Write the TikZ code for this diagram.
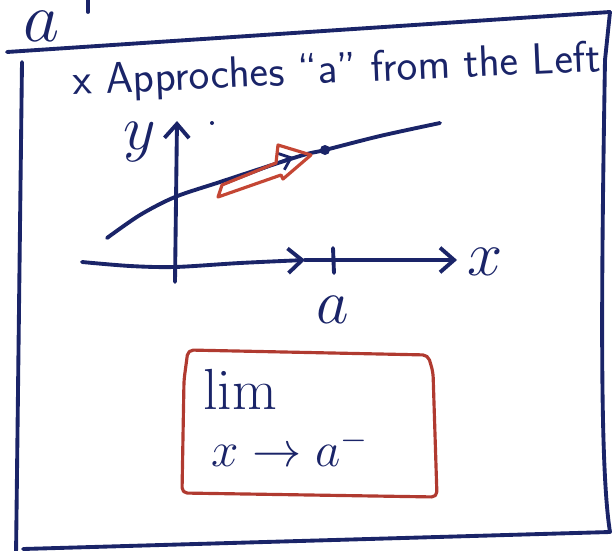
\RequirePackage{fix-cm}
\documentclass[tikz,border=0pt]{standalone}
\usetikzlibrary{arrows.meta}
\definecolor{inkblue}{RGB}{26,36,104}
\definecolor{inkred}{RGB}{196,70,52}
\definecolor{boxred}{RGB}{176,58,48}
\begin{document}
\begin{tikzpicture}[x=0.02cm, y=-0.02cm, line cap=round, line join=round,
    >={Straight Barb[length=8pt,width=14pt]},
    ink/.style={draw=inkblue, line width=2.2pt},
    every node/.style={text=inkblue, inner sep=0pt}]
    \useasboundingbox (0,0) rectangle (612,551);
    % heading letter and its rule
    \node[font=\fontsize{40}{44}\selectfont, anchor=base] (head) at (42,41) {$a$};
    \draw[ink] (88,-4) -- (88,12);
    \draw[ink] (7,52) -- (610,12);
    % frame
    \draw[ink] (22,62) -- (16,556);
    \draw[ink] (610,12) -- (605,60) .. controls (601,300) and (600,470) .. (610,532) -- (23,549);
    \node[font=\fontsize{25}{30}\selectfont\sffamily, rotate=2.5] (title) at (337,72) {x Approches ``a'' from the Left};
    % axes
    \draw[ink, ->] (175,282) -- (177,121);
    \draw[ink, ->] plot[smooth] coordinates {(82,262) (130,266) (175,267) (240,263) (305,260)};
    \draw[ink, ->] (305,260) -- (457,260);
    \draw[ink] (333,248) -- (334,273);
    \node[font=\fontsize{36}{40}\selectfont] (ylab) at (140,142) {$y$};
    \node[font=\fontsize{36}{40}\selectfont] (xlab) at (485,262) {$x$};
    \node[font=\fontsize{36}{40}\selectfont] (alab) at (333,310) {$a$};
    \fill[inkblue] (212,123) circle[radius=0.04cm];
    % the curve and the point above a
    \draw[ink] plot[smooth] coordinates {(107,238) (140,215) (175,197) (220,182) (300,156) (325,150) (380,136) (440,123)};
    \coordinate (apt) at (325,150);
    \fill[inkblue] (apt) circle[radius=0.1cm];
    % approach from the left
    \draw[ink, line width=1.6pt, -{Straight Barb[length=6pt,width=10pt]}] (226,183) -- (293,157);
    \draw[inkred, line width=1.8pt] (222,185) -- (276,163) -- (278,145) -- (311,155) -- (283,179) -- (281,175) -- (218,197) -- cycle;
    % the limit
    \draw[boxred, line width=1.8pt, rounded corners=3pt] (188,350) -- (428,355) -- (433,372) -- (437,497) -- (182,493) -- (184,380) -- cycle;
    \node[font=\fontsize{33}{36}\selectfont] (lim) at (240,389) {$\mathrm{lim}$};
    \node[font=\fontsize{28}{32}\selectfont] (under) at (290,448) {$x\to a^{-}$};
\end{tikzpicture}
\end{document}
